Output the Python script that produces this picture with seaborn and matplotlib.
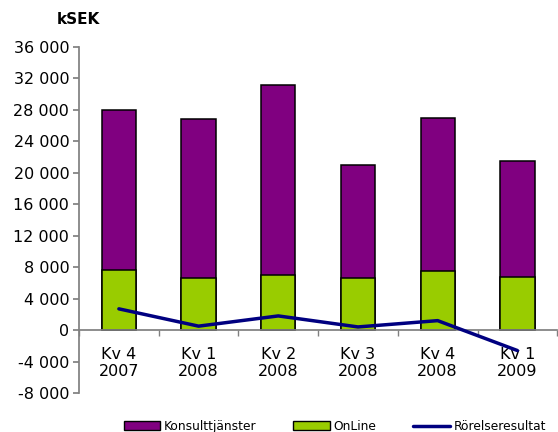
import matplotlib
matplotlib.use("Agg")
import matplotlib.pyplot as plt
import matplotlib.ticker as mticker
from matplotlib.patches import Patch
from matplotlib.lines import Line2D
import seaborn as sns
import pandas as pd

quarters = ["Kv 4\n2007", "Kv 1\n2008", "Kv 2\n2008", "Kv 3\n2008", "Kv 4\n2008", "Kv 1\n2009"]
online = [7700, 6600, 7000, 6600, 7500, 6800]
konsult = [20300, 20200, 24100, 14400, 19500, 14700]
rorelse = [2700, 500, 1800, 400, 1200, -2600]
yticks = list(range(-8000, 36001, 4000))

sns.set_theme(style="white")
plt.rcParams['font.family'] = ['DejaVu Sans']
plt.rcParams['text.color'] = 'black'

purple = "#800080"
green = "#99CC00"
navy = "#000080"

df = pd.DataFrame({"q": quarters, "online": online,
                   "total": [a + b for a, b in zip(online, konsult)],
                   "res": rorelse})

fig = plt.figure(figsize=(5.58, 4.32), dpi=100)
ax = fig.add_axes([0.1416, 0.0903, 0.857, 0.801])

sns.barplot(data=df, x="q", y="total", color=purple, edgecolor="black",
            linewidth=1.1, width=0.43, saturation=1, ax=ax)
sns.barplot(data=df, x="q", y="online", color=green, edgecolor="black",
            linewidth=1.1, width=0.43, saturation=1, ax=ax)
ax.plot(range(len(quarters)), df["res"], color=navy, linewidth=2.5, zorder=5)

ax.set_xlim(-0.5, len(quarters) - 0.5)
ax.set_ylim(-8000, 36000)
ax.set_yticks(yticks)
ax.yaxis.set_major_formatter(mticker.FuncFormatter(lambda v, p: f"{int(v):,}".replace(",", " ")))
ax.set_xlabel("")
ax.set_ylabel("")

for s in ["top", "right"]:
    ax.spines[s].set_visible(False)
ax.spines["left"].set_color("#808080")
ax.spines["bottom"].set_color("#808080")
ax.spines["bottom"].set_position(("data", 0))
ax.spines["bottom"].set_zorder(1)

ax.tick_params(axis="y", left=True, length=4, color="#808080", labelsize=11.5, pad=3, labelcolor="black")
ax.tick_params(axis="x", which="major", bottom=False, length=0, labelsize=11.5, pad=12, labelcolor="black")
ax.set_xticks([i + 0.5 for i in range(-1, len(quarters))], minor=True)
ax.tick_params(axis="x", which="minor", bottom=True, length=4, color="#808080")
for lbl in ax.get_xticklabels():
    lbl.set_linespacing(1.2)

fig.text(0.102, 0.955, "kSEK", fontsize=11, fontweight="bold", color="black", ha="left", va="center")

handles = [Patch(facecolor=purple, edgecolor="black", linewidth=1),
           Patch(facecolor=green, edgecolor="black", linewidth=1),
           Line2D([0], [0], color=navy, linewidth=2.5)]
fig.legend(handles, ["Konsulttjänster", "OnLine", "Rörelseresultat"],
           loc="center", bbox_to_anchor=(0.60, 0.013), ncol=3, frameon=False,
           fontsize=8.8, handlelength=3.0, handleheight=0.7, columnspacing=3.0,
           handletextpad=0.3, labelcolor="black")

fig.savefig("out.png", dpi=100)
